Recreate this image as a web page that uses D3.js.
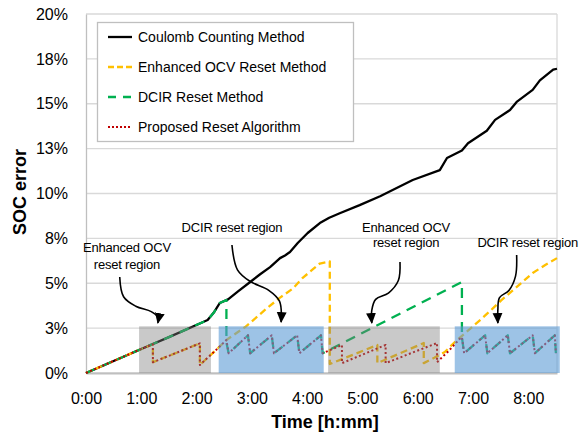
<!DOCTYPE html>
<html>
<head>
<meta charset="utf-8">
<script src="https://cdn.jsdelivr.net/npm/d3@7"></script>
<style>
body { margin: 0; background: #fff; }
text { font-family: "Liberation Sans", Arial, sans-serif; }
</style>
</head>
<body>
<script>
width = 584;
height = 436;
margin = { top: 14, right: 27, bottom: 63, left: 86 }

// data, [time in hours, SOC error in %]
var coulomb = [[0,0],[0.5,0.67],[1,1.34],[1.5,2.0],[2.12,2.84],[2.2,2.95],[2.32,3.4],[2.42,3.9],[2.57,4.1],
    [2.75,4.55],[2.97,5.07],[3.15,5.5],[3.33,5.9],[3.51,6.4],[3.6,6.55],[3.69,6.74],[3.83,7.24],[4.01,7.8],
    [4.23,8.35],[4.4,8.65],[4.59,8.9],[4.95,9.35],[5.32,9.85],[5.91,10.75],[6.4,11.3],[6.53,11.98],[6.8,12.4],
    [6.91,12.8],[7.25,13.5],[7.4,14.1],[7.67,14.65],[7.79,15.1],[8.08,15.77],[8.21,16.3],[8.45,16.9],[8.52,16.95]];

var ocvReset = [[0,0],[0.5,0.67],[1,1.34],[1.21,1.6],[1.21,0.6],[2.06,1.65],[2.06,0.45],[2.2,0.85],[2.39,1.39],
    [2.54,1.84],[2.88,2.56],[3.27,3.6],[3.51,4.2],[3.74,4.7],[3.92,5.3],[4.09,5.74],[4.23,6.1],[4.38,6.2],
    [4.41,6.22],[4.41,0.5],[5.27,1.56],[5.27,0.55],[6.11,1.67],[6.11,0.55],[6.3,0.85],[6.49,1.17],[6.71,1.84],
    [6.85,2.2],[7.15,3.0],[7.36,3.6],[7.52,4.07],[7.72,4.6],[8.08,5.57],[8.3,6.0],[8.52,6.4]];

var dcirReset = [[0,0],[0.5,0.67],[1,1.34],[1.5,2.0],[2.12,2.84],[2.2,2.95],[2.32,3.4],[2.42,3.9],[2.54,4.07],
    [2.54,1.7],[2.58,1.1],[2.93,2.1],[2.97,1.1],[3.36,2.1],[3.4,1.1],[3.82,2.1],[3.86,1.1],[4.25,2.1],[4.28,1.1],
    [6.8,5.07],[6.8,2.0],[6.84,1.1],[7.22,2.1],[7.26,1.1],[7.63,2.1],[7.67,1.1],[8.08,2.1],[8.12,1.1],
    [8.48,2.1],[8.5,1.1]];

var proposed = [[0,0],[0.5,0.67],[1,1.34],[1.21,1.6],[1.21,0.6],[2.06,1.65],[2.06,0.45],[2.2,0.85],[2.39,1.39],
    [2.54,1.84],[2.58,1.1],[2.93,2.1],[2.97,1.1],[3.36,2.1],[3.4,1.1],[3.82,2.1],[3.86,1.1],[4.25,2.1],[4.28,1.1],
    [4.63,1.56],[4.63,0.55],[5.42,1.56],[5.42,0.55],[6.35,1.67],[6.35,0.6],[6.55,1.2],[6.76,1.9],[6.8,2.0],
    [6.84,1.1],[7.22,2.1],[7.26,1.1],[7.63,2.1],[7.67,1.1],[8.08,2.1],[8.12,1.1],[8.48,2.1],[8.5,1.1]];

// shaded reset regions [start h, end h]
var ocvRegions = [[0.96,2.26],[4.38,6.40]];
var dcirRegions = [[2.40,4.30],[6.67,8.57]];
var regionTop = 2.6;

var yTicks = [0,2.5,5,7.5,10,12.5,15,17.5,20];
var xTicks = [0,1,2,3,4,5,6,7,8];

var keys = ['Coulomb Counting Method','Enhanced OCV Reset Method','DCIR Reset Method','Proposed Reset Algorithm'];

// annotations: label lines and arrow paths, in data coords
var labels = [
    {x:0.74, lines:[[6.74,'Enhanced OCV'],[5.79,'reset region']]},
    {x:2.64, lines:[[7.86,'DCIR reset region']]},
    {x:5.79, lines:[[7.86,'Enhanced OCV'],[7.02,'reset region']]},
    {x:7.99, lines:[[7.02,'DCIR reset region']]}
];
var arrows = [
    [[0.61,5.35],[0.68,4.25],[0.9,3.72],[1.18,3.42],[1.3,3.1],[1.3,2.79]],
    [[2.64,7.13],[2.74,5.75],[2.97,5.1],[3.3,4.62],[3.5,4.0],[3.53,2.84]],
    [[5.68,6.18],[5.65,5.15],[5.47,4.45],[5.24,4.1],[5.17,3.5],[5.17,2.79]],
    [[7.79,6.57],[7.77,5.4],[7.65,4.6],[7.48,4.2],[7.45,3.5],[7.45,2.79]]
];

var styles = {
    'Coulomb Counting Method':   {color:'#000000', dash:null,  legendDash:null,  w:2.3, data:coulomb},
    'Enhanced OCV Reset Method': {color:'#ffc000', dash:'7,4', legendDash:'6,3', w:2.3, data:ocvReset},
    'DCIR Reset Method':         {color:'#00b050', dash:'10,7',legendDash:'8,7', w:2.3, data:dcirReset},
    'Proposed Reset Algorithm':  {color:'#c00000', dash:'2,2.5',legendDash:'2,2', w:2, data:proposed}
};

x = d3.scaleLinear().domain([0, 8.52]).range([margin.left, width - margin.right]);
y = d3.scaleLinear().domain([0, 20]).range([height - margin.bottom, margin.top]);

const svg = d3.select('body').append('svg')
    .attr('width', width)
    .attr('height', height)
    .attr('viewBox', [0, 0, width, height]);

svg.append('defs').append('marker')
    .attr('id','head')
    .attr('viewBox','0 0 10 10')
    .attr('refX',9).attr('refY',5)
    .attr('markerWidth',11).attr('markerHeight',11)
    .attr('markerUnits','userSpaceOnUse')
    .attr('orient','auto')
    .append('path').attr('d','M0,0.5L10,5L0,9.5Z').attr('fill','#000');

// gridlines
svg.append('g').selectAll('line')
    .data(yTicks)
    .join('line')
    .attr('x1', x.range()[0]).attr('x2', x.range()[1])
    .attr('y1', d => y(d)).attr('y2', d => y(d))
    .attr('stroke', '#d9d9d9')
    .attr('stroke-width', 1.3);

// plot border right
svg.append('line')
    .attr('x1', x.range()[1]).attr('x2', x.range()[1])
    .attr('y1', y(0)).attr('y2', y(20))
    .attr('stroke', '#d9d9d9').attr('stroke-width', 1.3);

// axes
yAxis = g => g
    .attr('transform', `translate(${margin.left},0)`)
    .call(d3.axisLeft(y).tickValues(yTicks).tickSize(0).tickPadding(18)
        .tickFormat(d => d3.format('.0f')(d) + '%'))
    .call(g => g.select('.domain').attr('stroke','#bfbfbf').attr('stroke-width',1.3))
    .call(g => g.selectAll('text').attr('font-size',16).attr('fill','#000')
        .attr('font-family','"Liberation Sans", Arial, sans-serif'));

xAxis = g => g
    .attr('transform', `translate(0,${height - margin.bottom})`)
    .call(d3.axisBottom(x).tickValues(xTicks).tickSize(0).tickPadding(20)
        .tickFormat(d => d + ':00'))
    .call(g => g.select('.domain').attr('stroke','#bfbfbf').attr('stroke-width',1.8))
    .call(g => g.selectAll('text').attr('font-size',16).attr('fill','#000')
        .attr('font-family','"Liberation Sans", Arial, sans-serif'));

svg.append('g').call(yAxis);
svg.append('g').call(xAxis);

// lines
var line = d3.line().x(d => x(d[0])).y(d => y(d[1]));

svg.append('g').selectAll('path')
    .data(keys)
    .join('path')
    .attr('d', k => line(styles[k].data))
    .attr('fill', 'none')
    .attr('stroke', k => styles[k].color)
    .attr('stroke-width', k => styles[k].w)
    .attr('stroke-dasharray', k => styles[k].dash)
    .attr('stroke-linejoin', 'round');

// reset regions on top, semi transparent
svg.append('g').selectAll('rect')
    .data(ocvRegions)
    .join('rect')
    .attr('x', d => x(d[0]))
    .attr('width', d => x(d[1]) - x(d[0]))
    .attr('y', y(regionTop))
    .attr('height', y(0) - y(regionTop))
    .attr('fill', 'rgba(127,127,127,0.42)');

svg.append('g').selectAll('rect')
    .data(dcirRegions)
    .join('rect')
    .attr('x', d => x(d[0]))
    .attr('width', d => x(d[1]) - x(d[0]))
    .attr('y', y(regionTop))
    .attr('height', y(0) - y(regionTop))
    .attr('fill', 'rgba(91,155,213,0.6)');

// annotations
var arrowLine = d3.line().x(d => x(d[0])).y(d => y(d[1])).curve(d3.curveCatmullRom.alpha(0.5));
svg.append('g').selectAll('path')
    .data(arrows)
    .join('path')
    .attr('d', arrowLine)
    .attr('fill', 'none')
    .attr('stroke', '#000')
    .attr('stroke-width', 1.6)
    .attr('marker-end', 'url(#head)');

labels.forEach(function(l){
    l.lines.forEach(function(t){
        svg.append('text')
            .attr('x', x(l.x))
            .attr('y', y(t[0]))
            .attr('text-anchor', 'middle')
            .attr('font-size', 13)
            .attr('letter-spacing', -0.2)
            .text(t[1]);
    });
});

// legend
var lg = svg.append('g').attr('class','legend');
lg.append('rect')
    .attr('x', 97.5).attr('y', 22.5)
    .attr('width', 256).attr('height', 119)
    .attr('fill', '#fff')
    .attr('stroke', '#bfbfbf')
    .attr('stroke-width', 1.3);
var rows = lg.selectAll('g.row')
    .data(keys)
    .join('g')
    .attr('class','row')
    .attr('transform', (d,i) => 'translate(108,' + (37 + i*30) + ')');
rows.append('line')
    .attr('x1', 0).attr('x2', 24)
    .attr('stroke', d => styles[d].color)
    .attr('stroke-width', d => styles[d].w)
    .attr('stroke-dasharray', d => styles[d].legendDash);
rows.append('text')
    .attr('x', 30)
    .attr('dy', '0.35em')
    .attr('font-size', 14)
    .text(d => d);

// axis titles
svg.append('text')
    .attr('transform', 'translate(26,192) rotate(-90)')
    .attr('text-anchor', 'middle')
    .attr('font-size', 18)
    .attr('font-weight', 'bold')
    .text('SOC error');

svg.append('text')
    .attr('x', 325)
    .attr('y', 428)
    .attr('text-anchor', 'middle')
    .attr('font-size', 18)
    .attr('font-weight', 'bold')
    .text('Time [h:mm]');
</script>
</body>
</html>
